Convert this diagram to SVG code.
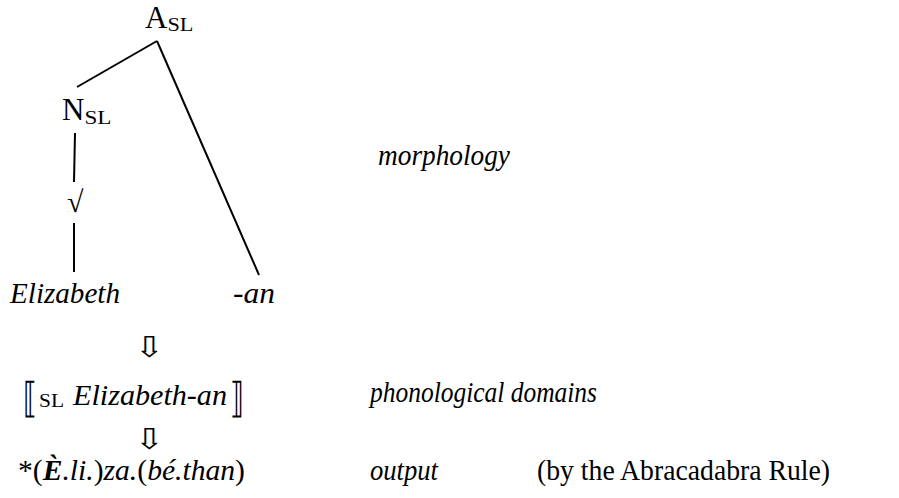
<svg xmlns="http://www.w3.org/2000/svg" width="899" height="498" viewBox="0 0 899 498">
<style>
.edge{stroke:#000;stroke-width:2;fill:none}
</style>
<rect width="899" height="498" fill="#fff"/>
<g id="connectors">
<line class="edge" x1="157" y1="41" x2="77" y2="87"/>
<line class="edge" x1="157" y1="41" x2="259" y2="275"/>
<line class="edge" x1="75" y1="133" x2="74" y2="182"/>
<line class="edge" x1="74" y1="223" x2="74" y2="272"/>
</g>
<g font-family="Liberation Serif" font-size="29" fill="#000">
<g id="node-A"><text x="145" y="28" font-size="31">A<tspan font-size="18" dy="3" textLength="26" lengthAdjust="spacingAndGlyphs">SL</tspan></text></g>
<g id="node-N"><text x="62" y="120" font-size="31">N<tspan font-size="18" dy="4" textLength="27" lengthAdjust="spacingAndGlyphs">SL</tspan></text></g>
<g id="node-root"><text x="67" y="212" font-size="30">√</text></g>
<g id="node-elizabeth"><text font-style="italic" x="10" y="303" textLength="110" lengthAdjust="spacingAndGlyphs">Elizabeth</text></g>
<g id="node-an"><text font-style="italic" x="233" y="303" textLength="42" lengthAdjust="spacingAndGlyphs">-an</text></g>
<g id="label-morphology"><text font-style="italic" x="378" y="165" textLength="132" lengthAdjust="spacingAndGlyphs">morphology</text></g>
<g id="arrow-1"><text font-family="DejaVu Serif" font-size="32" text-anchor="middle" transform="translate(149,357) scale(1.2,0.9)">⇩</text></g>
<g id="node-domain">
<text font-family="DejaVu Serif" font-size="28" transform="translate(23,412) scale(1.0,1.45)">⟦</text>
<text font-size="18" x="39" y="407" textLength="25" lengthAdjust="spacingAndGlyphs">SL</text>
<text font-style="italic" x="73" y="405" textLength="154" lengthAdjust="spacingAndGlyphs">Elizabeth-an</text>
<text font-family="DejaVu Serif" font-size="28" transform="translate(230,412) scale(1.0,1.45)">⟧</text>
</g>
<g id="label-domains"><text font-style="italic" x="370" y="402" textLength="227" lengthAdjust="spacingAndGlyphs">phonological domains</text></g>
<g id="arrow-2"><text font-family="DejaVu Serif" font-size="32" text-anchor="middle" transform="translate(149,449) scale(1.2,0.9)">⇩</text></g>
<g id="node-output"><text x="18" y="480" textLength="227" lengthAdjust="spacingAndGlyphs">*(<tspan font-style="italic" font-weight="bold">È</tspan><tspan font-style="italic">.li.</tspan>)<tspan font-style="italic">za.</tspan>(<tspan font-style="italic">bé.than</tspan>)</text></g>
<g id="label-output"><text font-style="italic" x="370" y="480" textLength="68" lengthAdjust="spacingAndGlyphs">output</text></g>
<g id="label-rule"><text x="537" y="480" textLength="293" lengthAdjust="spacingAndGlyphs">(by the Abracadabra Rule)</text></g>
</g>
</svg>
